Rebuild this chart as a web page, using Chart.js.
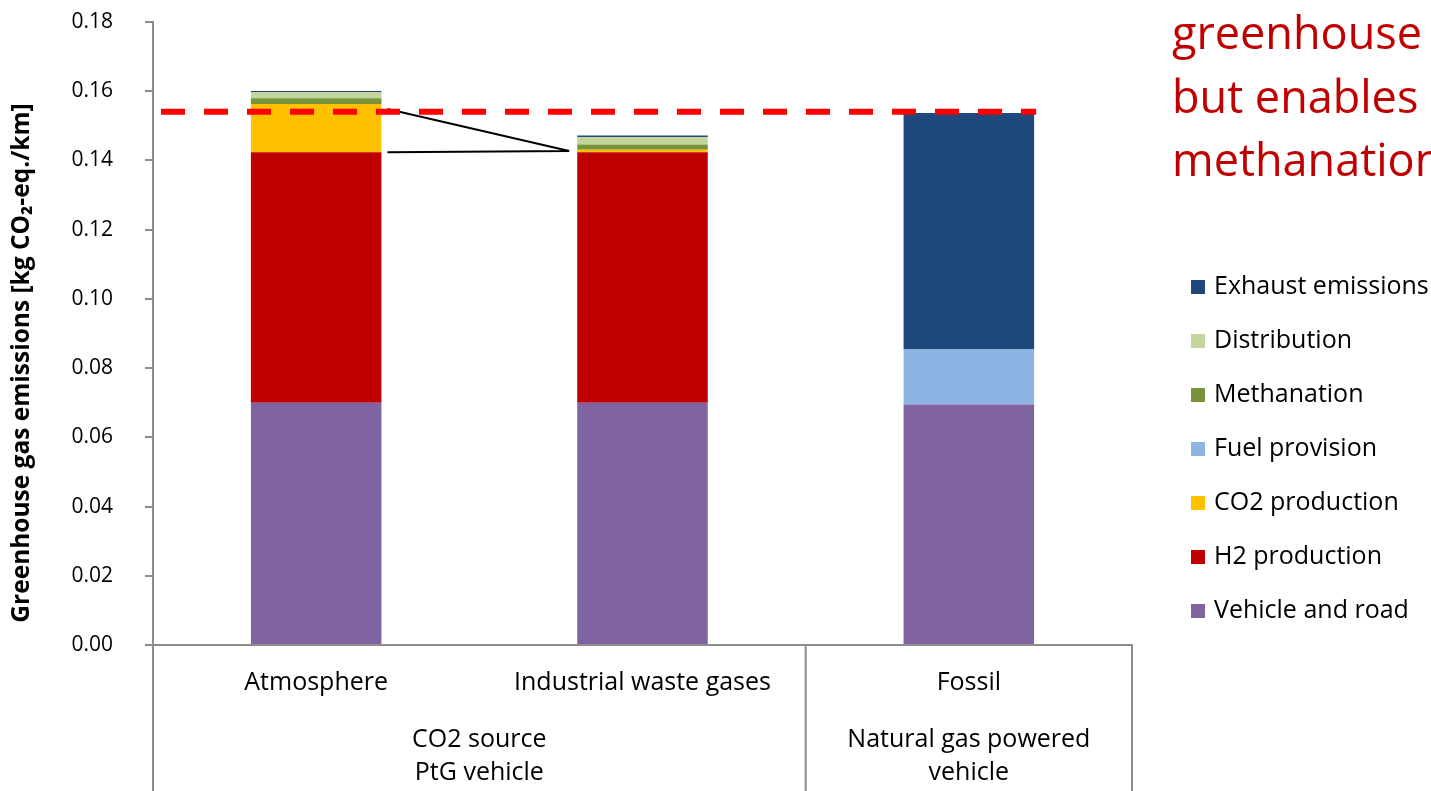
<!DOCTYPE html>
<html>
<head>
<meta charset="utf-8">
<script src="https://cdn.jsdelivr.net/npm/chart.js@4/dist/chart.umd.min.js"></script>
<style>
  html, body { margin: 0; padding: 0; background: #ffffff; overflow: hidden; }
  #wrap { position: relative; width: 1431px; height: 791px; }
</style>
</head>
<body>
<div id="wrap"><canvas id="chart" width="1431" height="791"></canvas></div>
<script>
// Categories and grouping of the x axis
const categories = ['Atmosphere', 'Industrial waste gases', 'Fossil'];
const groupLabels = [['CO2 source', 'PtG vehicle'], ['Natural gas powered', 'vehicle']];

// Emission contributions per category [kg CO2-eq./km], bottom to top of each stack
const seriesNames = ['Vehicle and road', 'H2 production', 'CO2 production', 'Fuel provision',
                     'Methanation', 'Distribution', 'Exhaust emissions'];
const vehicleAndRoad   = [0.0700, 0.0700, 0.0695];
const h2Production     = [0.0724, 0.0724, 0.0000];
const co2Production    = [0.0139, 0.0007, 0.0000];
const fuelProvision    = [0.0000, 0.0000, 0.0160];
const methanation      = [0.0017, 0.0015, 0.0000];
const distribution     = [0.0017, 0.0022, 0.0000];
const exhaustEmissions = [0.0004, 0.0004, 0.0682];
const seriesColors = ['#8064A2', '#C00000', '#FFC000', '#8EB4E3', '#77933C', '#C3D69B', '#1F497D'];

// Fossil reference level shown as dashed line
const referenceLevel = 0.1541;

// Y axis tick values and title
const yTicks = [0.00, 0.02, 0.04, 0.06, 0.08, 0.10, 0.12, 0.14, 0.16, 0.18];
const yTitle = 'Greenhouse gas emissions [kg CO₂-eq./km]';

// Slide note text at the right
const noteLines = ['greenhouse', 'but enables', 'methanation'];

const FONT = '"Open Sans", "Noto Sans", sans-serif';
const AXIS_GRAY = '#8c8c8c';

const seriesValues = [vehicleAndRoad, h2Production, co2Production, fuelProvision,
                      methanation, distribution, exhaustEmissions];

const datasets = seriesNames.map((name, i) => ({
  label: name,
  data: seriesValues[i],
  backgroundColor: seriesColors[i],
  borderWidth: 0,
  categoryPercentage: 0.8,
  barPercentage: 0.5
}));

function sumUpTo(idx, n) {
  let s = 0;
  for (let k = 0; k < n; k++) s += seriesValues[k][idx];
  return s;
}

const overlayPlugin = {
  id: 'overlay',
  afterDatasetsDraw(chart) {
    const ctx = chart.ctx;
    const y = chart.scales.y;
    const area = chart.chartArea;
    const meta = chart.getDatasetMeta(0);
    const bar = i => {
      const el = meta.data[i];
      return { left: el.x - el.width / 2, right: el.x + el.width / 2 };
    };

    // Callout lines from the CO2 segment of the first bar to the second bar
    ctx.save();
    ctx.strokeStyle = '#000000';
    ctx.lineWidth = 2;
    const b0 = bar(0), b1 = bar(1);
    const yStart1 = y.getPixelForValue(sumUpTo(0, 3)) + 5;
    const yStart2 = y.getPixelForValue(sumUpTo(0, 2));
    const yEnd = y.getPixelForValue(sumUpTo(1, 2) + co2Production[1] / 2);
    ctx.beginPath();
    ctx.moveTo(b0.right + 6, yStart1);
    ctx.lineTo(b1.left - 8, yEnd);
    ctx.moveTo(b0.right + 6, yStart2);
    ctx.lineTo(b1.left - 8, yEnd);
    ctx.stroke();
    ctx.restore();

    // Dashed reference line
    ctx.save();
    ctx.strokeStyle = '#FF0000';
    ctx.lineWidth = 6;
    ctx.setLineDash([24, 19]);
    const yRef = y.getPixelForValue(referenceLevel);
    ctx.beginPath();
    ctx.moveTo(area.left + 8, yRef);
    ctx.lineTo(bar(2).right + 2, yRef);
    ctx.stroke();
    ctx.restore();
  },
  afterDraw(chart) {
    const ctx = chart.ctx;
    const x = chart.scales.x;
    const area = chart.chartArea;
    const H = chart.height;

    // Y axis title, rotated
    ctx.save();
    ctx.translate(22, 363);
    ctx.rotate(-Math.PI / 2);
    ctx.font = 'bold 24.5px ' + FONT;
    ctx.fillStyle = '#000000';
    ctx.textAlign = 'center';
    ctx.textBaseline = 'middle';
    ctx.fillText(yTitle, 0, 0);
    ctx.restore();

    // Group separators below the category axis
    ctx.save();
    ctx.strokeStyle = AXIS_GRAY;
    ctx.lineWidth = 2;
    const sep = [x.left, (x.getPixelForTick(1) + x.getPixelForTick(2)) / 2, x.right];
    ctx.beginPath();
    sep.forEach(px => { ctx.moveTo(px, area.bottom); ctx.lineTo(px, H); });
    ctx.stroke();
    ctx.restore();

    // Group labels
    ctx.save();
    ctx.fillStyle = '#000000';
    ctx.font = '25px ' + FONT;
    ctx.textAlign = 'center';
    ctx.textBaseline = 'middle';
    const gx = [(x.getPixelForTick(0) + x.getPixelForTick(1)) / 2, x.getPixelForTick(2)];
    groupLabels.forEach((lines, g) => {
      lines.forEach((t, l) => ctx.fillText(t, gx[g], 740 + l * 33));
    });
    ctx.restore();

    // Legend (top entry is the last series)
    ctx.save();
    ctx.font = '25px ' + FONT;
    ctx.textBaseline = 'middle';
    ctx.textAlign = 'left';
    for (let i = seriesNames.length - 1, row = 0; i >= 0; i--, row++) {
      const cy = 287 + row * 54;
      ctx.fillStyle = seriesColors[i];
      ctx.fillRect(1191, cy - 7, 14, 14);
      ctx.fillStyle = '#000000';
      ctx.fillText(seriesNames[i], 1214, cy);
    }
    ctx.restore();

    // Note text
    ctx.save();
    ctx.font = '45px ' + FONT;
    ctx.fillStyle = '#C00000';
    ctx.textAlign = 'left';
    ctx.textBaseline = 'alphabetic';
    noteLines.forEach((t, i) => ctx.fillText(t, 1172, 49 + i * 63.5));
    ctx.restore();
  }
};

Chart.defaults.font.family = FONT;
Chart.defaults.color = '#000000';

new Chart(document.getElementById('chart'), {
  type: 'bar',
  data: { labels: categories, datasets },
  options: {
    responsive: false,
    animation: false,
    devicePixelRatio: 1,
    layout: { padding: { top: 0, right: 299, left: 0, bottom: 0 } },
    plugins: { legend: { display: false }, tooltip: { enabled: false } },
    scales: {
      x: {
        stacked: true,
        grid: { display: false, drawTicks: false },
        border: { display: true, color: AXIS_GRAY, width: 2 },
        ticks: { font: { size: 25 }, padding: 23, maxRotation: 0, autoSkip: false },
        afterFit(scale) { scale.height = 146; }
      },
      y: {
        stacked: true,
        min: 0,
        max: 0.18,
        afterBuildTicks(axis) { axis.ticks = yTicks.map(v => ({ value: v })); },
        ticks: { font: { size: 21 }, padding: 32, callback: v => Number(v).toFixed(2) },
        grid: { drawOnChartArea: false, drawTicks: true, tickLength: 8, color: AXIS_GRAY, lineWidth: 2 },
        border: { display: true, color: AXIS_GRAY, width: 2 },
        title: { display: false },
        afterFit(scale) {
          scale.width = 153;
          scale.paddingTop = 22;
          scale.paddingBottom = 0;
        }
      }
    }
  },
  plugins: [overlayPlugin]
});
</script>
</body>
</html>
